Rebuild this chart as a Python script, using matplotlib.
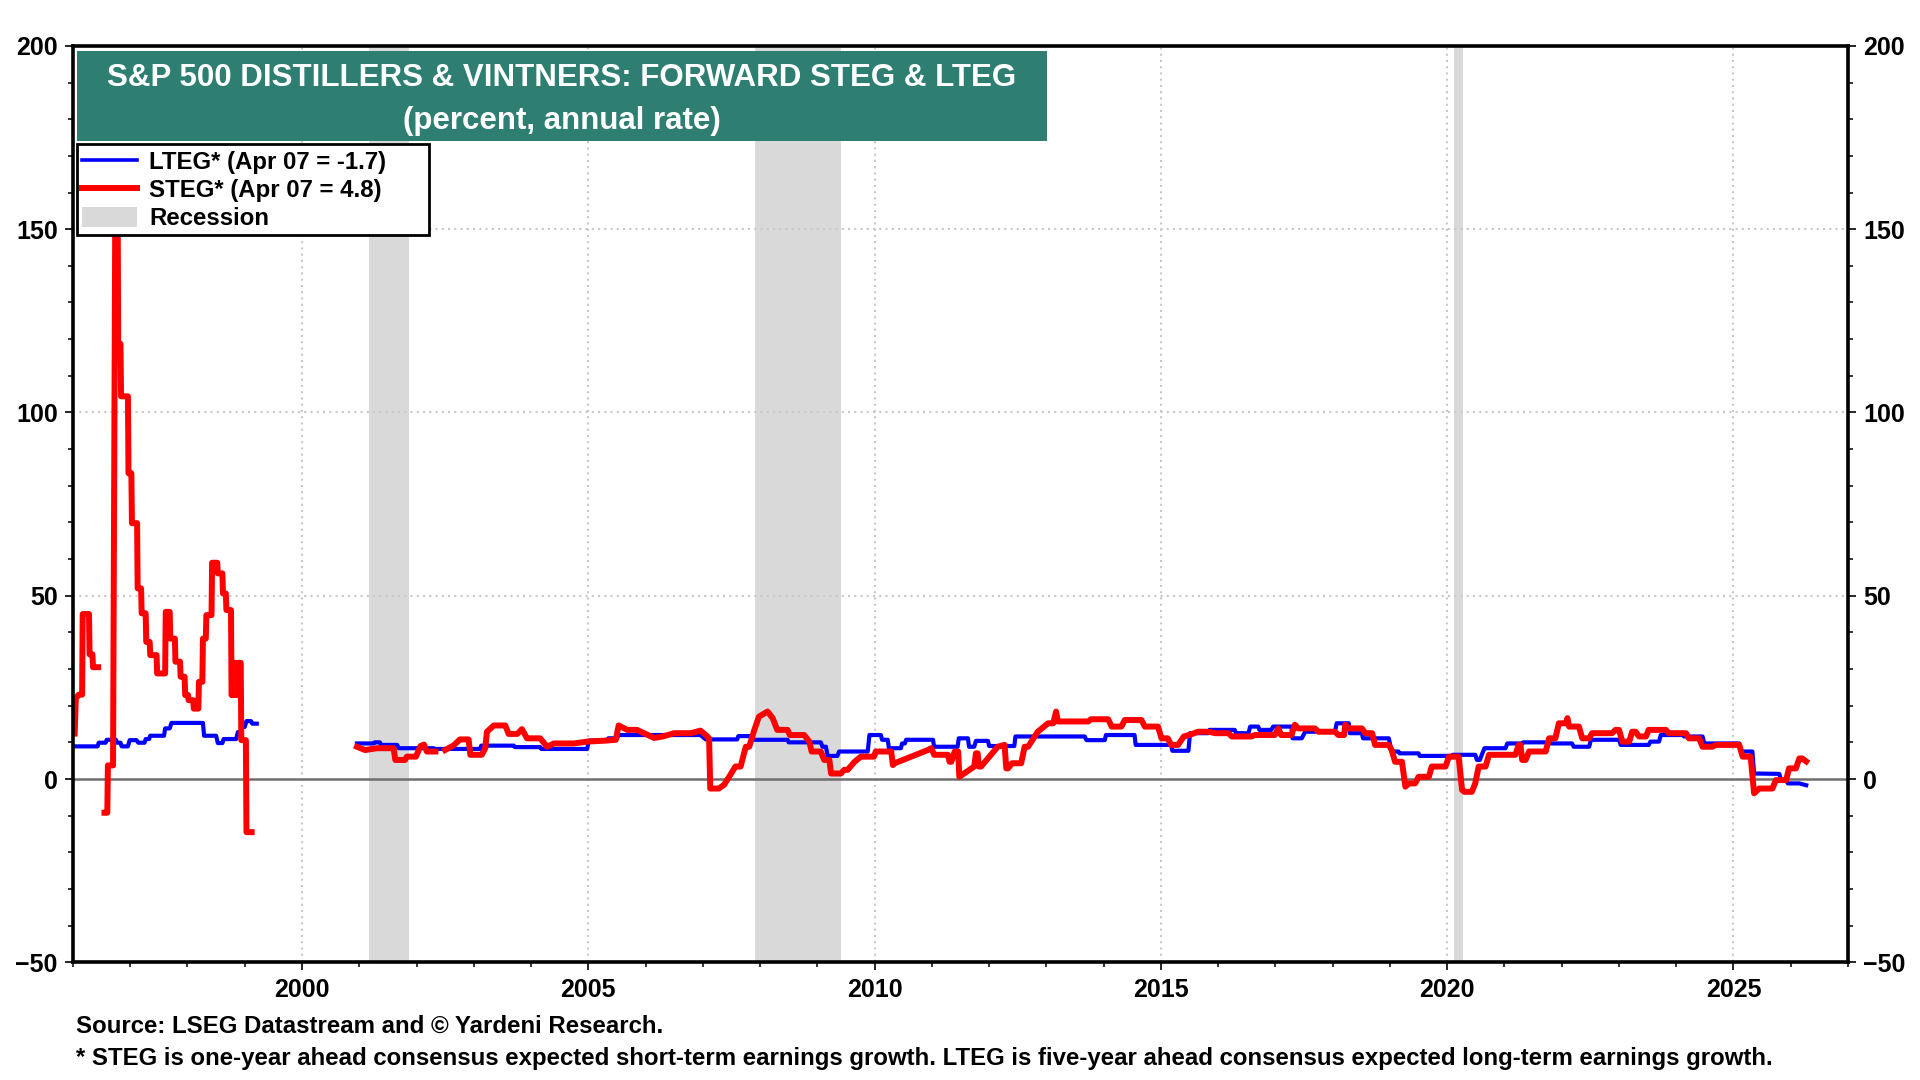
import numpy as np
import matplotlib
matplotlib.use("Agg")
import matplotlib.pyplot as plt
from matplotlib.patches import Rectangle, Patch
from matplotlib.lines import Line2D
from matplotlib.ticker import MultipleLocator

nan = np.nan

# STEG: one-year ahead expected growth (percent)
steg_years = [
    1996.03, 1996.05, 1996.10, 1996.16, 1996.17, 1996.28, 1996.29, 1996.34, 1996.35, 1996.44, 1996.50,
    1996.55, 1996.60, 1996.61, 1996.70, 1996.74, 1996.78, 1996.79, 1996.83, 1996.84, 1996.96,
    1996.97, 1997.02, 1997.03, 1997.12, 1997.13, 1997.19, 1997.20, 1997.27, 1997.28, 1997.34,
    1997.35, 1997.46, 1997.47, 1997.61, 1997.62, 1997.69, 1997.70, 1997.78, 1997.79, 1997.87,
    1997.88, 1997.95, 1997.96, 1998.01, 1998.02, 1998.10, 1998.11, 1998.19, 1998.20, 1998.26,
    1998.27, 1998.32, 1998.33, 1998.42, 1998.43, 1998.52, 1998.53, 1998.61, 1998.62, 1998.67,
    1998.68, 1998.76, 1998.77, 1998.80, 1998.81, 1998.84, 1998.85, 1998.88, 1998.89, 1998.93,
    1998.94, 1999.02, 1999.03, 1999.12, 2000.00,
    2000.96, 2001.10, 2001.31, 2001.60, 2001.63, 2001.80, 2001.83, 2001.99, 2002.07, 2002.13,
    2002.18, 2002.33, 2002.40,
    2002.50, 2002.65, 2002.76, 2002.91, 2002.94, 2003.14, 2003.20, 2003.23, 2003.35, 2003.55,
    2003.61, 2003.76, 2003.84, 2003.93, 2004.16, 2004.28, 2004.40, 2004.75, 2004.98, 2005.33,
    2005.48, 2005.53, 2005.68, 2005.85, 2006.15, 2006.30, 2006.50, 2006.79, 2006.96, 2007.08,
    2007.11, 2007.13, 2007.28, 2007.37, 2007.46, 2007.57, 2007.66, 2007.75, 2007.81, 2007.90,
    2007.98, 2008.13, 2008.22, 2008.30, 2008.48, 2008.52, 2008.77, 2008.86, 2008.90, 2009.06,
    2009.12, 2009.21, 2009.24, 2009.41, 2009.47, 2009.53, 2009.65, 2009.76, 2009.99, 2010.02,
    2010.29, 2010.32, 2010.35, 2010.93, 2010.99, 2011.04, 2011.28, 2011.31, 2011.34, 2011.40,
    2011.46, 2011.48, 2011.74, 2011.77, 2011.80, 2011.82, 2011.86, 2012.15, 2012.27, 2012.30,
    2012.33, 2012.40, 2012.56, 2012.62, 2012.68, 2012.85, 2013.03, 2013.12, 2013.17, 2013.20,
    2013.73, 2013.78, 2014.08, 2014.14, 2014.31, 2014.37, 2014.66, 2014.72, 2014.95, 2015.01,
    2015.12, 2015.18, 2015.30, 2015.40, 2015.53, 2015.65, 2015.83, 2015.95, 2016.18, 2016.24,
    2016.58, 2016.64, 2016.99, 2017.05, 2017.10, 2017.28, 2017.34, 2017.40, 2017.69, 2017.75,
    2018.04, 2018.10, 2018.20, 2018.22, 2018.28, 2018.51, 2018.57, 2018.69, 2018.74, 2018.98,
    2019.03, 2019.09, 2019.21, 2019.27, 2019.33, 2019.44, 2019.50, 2019.68, 2019.73, 2019.97,
    2020.03, 2020.20, 2020.26, 2020.30, 2020.43, 2020.49, 2020.55, 2020.67, 2020.73, 2021.19,
    2021.25, 2021.28, 2021.31, 2021.37, 2021.43, 2021.72, 2021.78, 2021.89, 2021.95, 2022.07,
    2022.10, 2022.13, 2022.30, 2022.36, 2022.48, 2022.53, 2022.88, 2022.94, 2023.00, 2023.06,
    2023.18, 2023.23, 2023.29, 2023.35, 2023.47, 2023.52, 2023.82, 2023.87, 2024.17, 2024.22,
    2024.40, 2024.46, 2024.63, 2024.69, 2025.10, 2025.16, 2025.30, 2025.36, 2025.45, 2025.68,
    2025.74, 2025.92, 2025.97, 2026.09, 2026.15, 2026.20, 2026.27,
]
steg_vals = [
    12.4, 22, 23, 23, 45, 45, 34, 34, 30.5, 30.5, nan,
    -9.2, -9.2, 3.7, 3.7, 160, 160, 118.7, 118.7, 104.4, 104.4,
    83.4, 83.4, 69.8, 69.8, 52, 52, 45.2, 45.2, 37.4, 37.4,
    33.8, 33.8, 28.8, 28.8, 45.6, 45.6, 38.3, 38.3, 32, 32,
    27.9, 27.9, 22.9, 22.9, 21.5, 21.5, 19.2, 19.2, 26.5, 26.5,
    38.3, 38.3, 44.7, 44.7, 59, 59, 56.1, 56.1, 50.6, 50.6,
    46.1, 46.1, 22.9, 22.9, 31.7, 31.7, 22.9, 22.9, 31.7, 31.7,
    10.6, 10.6, -14.5, -14.5, nan,
    8.8, 7.9, 8.4, 8.4, 5.2, 5.2, 6.1, 6.1, 9.0, 9.4,
    7.5, 7.5, nan,
    7.9, 9.2, 10.8, 10.8, 6.6, 6.6, 8.4, 12.9, 14.6, 14.6,
    12.3, 12.3, 13.6, 11.1, 11.1, 8.8, 9.7, 9.7, 10.2, 10.5,
    10.7, 14.6, 13.4, 13.4, 11.2, 11.6, 12.5, 12.5, 13.2, 11.6,
    11.0, -2.6, -2.6, -1.6, 0.6, 3.4, 3.4, 8.8, 8.8, 13.4,
    17.0, 18.4, 16.6, 13.4, 13.4, 12.0, 12.0, 10.2, 7.5, 7.5,
    5.2, 5.2, 1.5, 1.5, 2.5, 2.5, 4.7, 6.1, 6.1, 7.5,
    7.5, 3.8, 4.3, 7.9, 8.4, 6.6, 6.6, 4.7, 4.7, 7.5,
    7.5, 0.6, 3.4, 7.0, 7.0, 3.4, 3.4, 8.8, 9.3, 2.9,
    2.9, 4.3, 4.3, 8.8, 8.8, 12.9, 15.2, 15.2, 18.4, 15.7,
    15.7, 16.3, 16.3, 14.3, 14.3, 16.1, 16.1, 14.3, 14.3, 11.1,
    11.1, 9.3, 9.3, 11.6, 12.2, 12.9, 12.9, 12.5, 12.5, 11.6,
    11.6, 12.0, 12.0, 13.8, 12.0, 12.0, 14.8, 13.8, 13.8, 12.9,
    12.9, 12.0, 12.0, 14.8, 13.8, 13.8, 12.5, 12.5, 9.3, 9.3,
    7.9, 4.7, 4.7, -2.1, -1.2, -1.2, 0.6, 0.6, 3.4, 3.4,
    6.1, 6.1, -3.0, -3.5, -3.5, -1.2, 3.4, 3.4, 6.6, 6.6,
    9.3, 9.3, 5.2, 5.2, 7.5, 7.5, 11.1, 11.1, 15.2, 15.2,
    16.6, 14.3, 14.3, 11.1, 11.1, 12.5, 12.5, 13.4, 13.4, 10.2,
    10.2, 12.9, 12.9, 11.6, 11.6, 13.4, 13.4, 12.5, 12.5, 11.1,
    11.1, 8.8, 8.8, 9.3, 9.3, 6.1, 6.1, -3.9, -2.6, -2.6,
    -0.3, -0.3, 2.9, 2.9, 5.6, 5.6, 4.8,
]

# LTEG: five-year ahead expected growth (percent)
lteg_years = [
    1996.00, 1996.43, 1996.45, 1996.57, 1996.59, 1996.75, 1996.77, 1996.83, 1996.85, 1996.96,
    1996.99, 1997.11, 1997.14, 1997.25, 1997.27, 1997.33, 1997.35, 1997.59, 1997.61, 1997.69,
    1997.72, 1998.27, 1998.29, 1998.50, 1998.53, 1998.61, 1998.63, 1998.85, 1998.88, 1998.92,
    1998.95, 1999.00, 1999.03, 1999.11, 1999.13, 1999.21, 2000.00,
    2000.96, 2001.25, 2001.27, 2001.36, 2001.38, 2001.66, 2001.69, 2002.30, 2002.32, 2003.11,
    2003.13, 2003.70, 2003.72, 2004.16, 2004.18, 2004.98, 2005.01, 2005.33, 2005.35, 2005.50,
    2005.53, 2006.96, 2007.05, 2007.60, 2007.62, 2007.84, 2007.87, 2008.48, 2008.50, 2009.06,
    2009.09, 2009.15, 2009.18, 2009.35, 2009.38, 2009.88, 2009.91, 2010.11, 2010.13, 2010.23,
    2010.25, 2010.46, 2010.48, 2010.53, 2010.55, 2011.02, 2011.04, 2011.45, 2011.47, 2011.63,
    2011.65, 2011.74, 2011.77, 2011.98, 2012.00, 2012.44, 2012.46, 2013.67, 2013.70, 2014.02,
    2014.04, 2014.54, 2014.56, 2015.18, 2015.20, 2015.48, 2015.51, 2015.83, 2015.85, 2016.29,
    2016.31, 2016.53, 2016.56, 2016.70, 2016.72, 2016.93, 2016.96, 2017.28, 2017.30, 2017.46,
    2017.52, 2018.04, 2018.07, 2018.28, 2018.30, 2018.51, 2018.53, 2018.98, 2019.03, 2019.15,
    2019.17, 2019.50, 2019.52, 2020.08, 2020.10, 2020.49, 2020.52, 2020.57, 2020.65, 2021.02,
    2021.05, 2021.31, 2021.33, 2021.78, 2021.80, 2022.18, 2022.21, 2022.48, 2022.51, 2023.00,
    2023.03, 2023.52, 2023.55, 2023.70, 2023.73, 2024.11, 2024.14, 2024.46, 2024.49, 2025.10,
    2025.13, 2025.33, 2025.36, 2025.80, 2025.83, 2025.92, 2025.95, 2026.15, 2026.27,
]
lteg_vals = [
    8.9, 8.9, 9.9, 9.9, 10.7, 10.7, 9.9, 9.9, 8.9, 8.9,
    10.6, 10.6, 9.9, 9.9, 10.9, 10.9, 11.8, 11.8, 13.8, 13.8,
    15.3, 15.3, 11.8, 11.8, 9.8, 9.8, 10.9, 10.9, 12.8, 12.8,
    14.2, 14.2, 15.8, 15.8, 15.1, 15.1, nan,
    9.7, 9.7, 10.0, 10.0, 9.3, 9.3, 8.4, 8.4, 8.2, 8.2,
    9.1, 9.1, 8.7, 8.7, 8.2, 8.2, 10.5, 10.5, 11.1, 11.1,
    12.0, 12.0, 10.8, 10.8, 11.7, 11.7, 10.7, 10.7, 10.0, 10.0,
    8.8, 8.8, 6.3, 6.3, 7.5, 7.5, 12.0, 12.0, 10.7, 10.7,
    8.4, 8.4, 9.7, 9.7, 10.7, 10.7, 8.8, 8.8, 11.1, 11.1,
    8.8, 8.8, 10.4, 10.4, 9.0, 9.0, 11.6, 11.6, 10.6, 10.6,
    12.0, 12.0, 9.3, 9.3, 7.7, 7.7, 12.5, 12.5, 13.4, 13.4,
    12.5, 12.5, 14.3, 14.3, 13.4, 13.4, 14.3, 14.3, 11.1, 11.1,
    12.9, 12.9, 15.2, 15.2, 12.5, 12.5, 11.1, 11.1, 7.5, 7.5,
    7.0, 7.0, 6.3, 6.3, 6.6, 6.6, 5.2, 5.2, 8.4, 8.4,
    9.7, 9.7, 10.0, 10.0, 9.7, 9.7, 8.8, 8.8, 10.7, 10.7,
    9.3, 9.3, 10.2, 10.2, 12.0, 12.0, 11.6, 11.6, 9.7, 9.7,
    7.5, 7.5, 1.5, 1.4, -0.3, -0.3, -1.2, -1.2, -1.7,
]

recession_start = [2001.17, 2007.92, 2020.12]
recession_end = [2001.87, 2009.42, 2020.28]

title_line1 = "S&P 500 DISTILLERS & VINTNERS: FORWARD STEG & LTEG"
title_line2 = "(percent, annual rate)"
lteg_label = "LTEG* (Apr 07 = -1.7)"
steg_label = "STEG* (Apr 07 = 4.8)"
footer1 = "Source: LSEG Datastream and \u00a9 Yardeni Research."
footer2 = ("* STEG is one-year ahead consensus expected short-term earnings growth. "
           "LTEG is five-year ahead consensus expected long-term earnings growth.")

plt.rcParams['font.family'] = ['Liberation Sans', 'DejaVu Sans']
plt.rcParams['font.weight'] = 'bold'

fig = plt.figure(figsize=(19.2, 10.8), dpi=100)
ax = fig.add_axes([0.038, 0.109, 0.9245, 0.8485])

ax.set_xlim(1996.0, 2027.0)
ax.set_ylim(-50, 200)

for s, e in zip(recession_start, recession_end):
    ax.axvspan(s, e, color='#d9d9d9', lw=0, zorder=0)

grid_kw = dict(color='#c8c8c8', lw=1.5, linestyle=(0, (1, 2)), zorder=1)
for yv in [50, 100, 150]:
    ax.axhline(yv, **grid_kw)
for xv in range(2000, 2027, 5):
    ax.axvline(xv, **grid_kw)
ax.axhline(0, color='#6e6e6e', lw=1.8, zorder=2)

ax.plot(lteg_years, lteg_vals, color='#0000ff', lw=3.0, zorder=3)
ax.plot(steg_years, steg_vals, color='#ff0000', lw=4.3, zorder=4)

# ticks
ax.xaxis.set_major_locator(MultipleLocator(5))
ax.xaxis.set_minor_locator(MultipleLocator(1))
ax.yaxis.set_major_locator(MultipleLocator(50))
ax.yaxis.set_minor_locator(MultipleLocator(10))
ax.tick_params(axis='both', which='major', direction='out', length=6, width=1.2,
               labelsize=18, pad=5)
ax.tick_params(axis='both', which='minor', direction='out', length=3.5, width=1.1)
ax.tick_params(axis='y', which='both', left=True, right=True, labelleft=True, labelright=True)
ax.tick_params(axis='x', which='both', top=False)
for lab in ax.get_xticklabels() + ax.get_yticklabels():
    lab.set_fontweight('bold')
for sp in ax.spines.values():
    sp.set_linewidth(2.6)
    sp.set_zorder(10)

# title box
ax.add_patch(Rectangle((0.0023, 0.8965), 0.5465, 0.098, transform=ax.transAxes,
                       facecolor='#2e7f72', edgecolor='none', zorder=20, clip_on=False))
ax.text(0.2755, 0.9655, title_line1, transform=ax.transAxes, ha='center', va='center',
        color='white', fontsize=22.5, fontweight='bold', zorder=21)
ax.text(0.2755, 0.9185, title_line2, transform=ax.transAxes, ha='center', va='center',
        color='white', fontsize=22.5, fontweight='bold', zorder=21)

# legend box drawn separately so its width matches
ax.add_patch(Rectangle((0.0023, 0.7937), 0.1983, 0.0988, transform=ax.transAxes,
                       facecolor='white', edgecolor='black', lw=2.0, zorder=22))
handles = [Line2D([], [], color='#0000ff', lw=2.6),
           Line2D([], [], color='#ff0000', lw=4.3),
           Patch(facecolor='#d9d9d9', edgecolor='none')]
leg = ax.legend(handles, [lteg_label, steg_label, 'Recession'],
                loc='upper left', bbox_to_anchor=(0.0023, 0.8905),
                prop={'size': 17.3, 'weight': 'bold'}, frameon=False,
                borderaxespad=0, borderpad=0.2,
                handlelength=2.3, handleheight=0.9, handletextpad=0.5,
                labelspacing=0.2)
leg.set_zorder(23)

fig.text(0.0395, 0.050, footer1, fontsize=17.3, fontweight='bold', va='center', ha='left')
fig.text(0.0395, 0.0195, footer2, fontsize=17.3, fontweight='bold', va='center', ha='left')

fig.savefig('out.png', dpi=100)
